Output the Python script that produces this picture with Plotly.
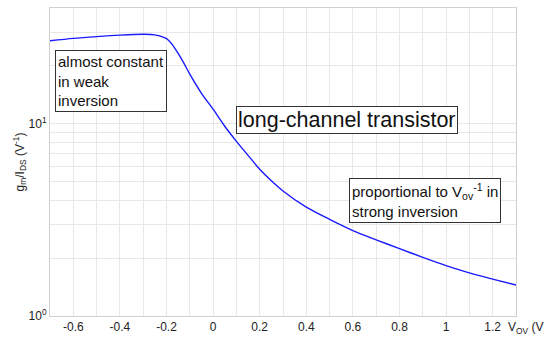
import plotly.graph_objects as go

# Overdrive voltage (V) and transconductance efficiency gm/IDS (1/V)
v_ov = [-0.70, -0.60, -0.50, -0.40, -0.30, -0.25, -0.20, -0.175, -0.15, -0.125,
        -0.10, -0.05, 0.00, 0.05, 0.10, 0.15, 0.20, 0.25, 0.30, 0.40,
        0.50, 0.60, 0.70, 0.80, 0.90, 1.00, 1.10, 1.20, 1.30]
gm_ids = [27.0, 27.8, 28.4, 28.9, 29.2, 29.0, 27.7, 25.8, 23.2, 20.6,
          18.1, 14.4, 11.9, 9.7, 8.1, 6.85, 5.8, 5.05, 4.47, 3.68,
          3.18, 2.78, 2.49, 2.24, 2.02, 1.83, 1.675, 1.555, 1.45]

x_grid = [round(-0.7 + 0.1 * i, 1) for i in range(21)]
x_labels = ["-0.6", "-0.4", "-0.2", "0", "0.2", "0.4", "0.6", "0.8", "1", "1.2"]
y_grid = [1, 2, 3, 4, 5, 6, 7, 8, 9, 10, 20, 30, 40]
y_labels = {1: "10<sup>0</sup>", 10: "10<sup>1</sup>"}

FONT = "Liberation Sans, Arial, sans-serif"

def x_text(v):
    s = f"{v:g}"
    return s if s in x_labels else ""

fig = go.Figure()
fig.add_trace(go.Scatter(
    x=v_ov, y=gm_ids, mode="lines",
    line=dict(color="#1a1aff", width=1.4, shape="spline", smoothing=0.8),
    showlegend=False, hoverinfo="skip",
))

fig.update_layout(
    width=544, height=341,
    margin=dict(l=50, r=28, t=7, b=19),
    paper_bgcolor="white", plot_bgcolor="white",
    font=dict(family=FONT, size=12, color="#222222"),
    xaxis=dict(
        range=[-0.7, 1.3],
        tickmode="array", tickvals=x_grid,
        ticktext=[x_text(v) for v in x_grid],
        showgrid=True, gridcolor="#e8e8e8", gridwidth=1,
        showline=True, linecolor="#d0d0d0", linewidth=1, mirror=True,
        ticks="", zeroline=False, tickfont=dict(size=12),
    ),
    yaxis=dict(
        type="log", range=[0, 1.602],
        tickmode="array", tickvals=y_grid,
        ticktext=[y_labels.get(v, "") for v in y_grid],
        showgrid=True, gridcolor="#e8e8e8", gridwidth=1,
        showline=True, linecolor="#d0d0d0", linewidth=1, mirror=True,
        ticks="", zeroline=False, tickfont=dict(size=12),
        title=dict(text="g<sub>m</sub>/I<sub>DS</sub> (V<sup>-1</sup>)",
                   font=dict(size=12), standoff=1),
    ),
)

box = dict(showarrow=False, bordercolor="#333333", borderwidth=1,
           bgcolor="white", align="left", xanchor="left", yanchor="top",
           xref="paper", yref="paper")

fig.add_annotation(
    text="almost constant<br>in weak<br>inversion",
    x=(55 - 50) / 466, y=1 - (50 - 7) / 315,
    font=dict(size=15, color="#111111"), borderpad=2, **box)
fig.add_annotation(
    text="long-channel transistor",
    x=(236 - 50) / 466, y=1 - (107 - 7) / 315,
    font=dict(size=21.5, color="#111111"), borderpad=1, **box)
fig.add_annotation(
    text="proportional to V<sub>ov</sub><sup>-1</sup> in<br>strong inversion",
    x=(349 - 50) / 466, y=1 - (181 - 7) / 315,
    font=dict(size=15, color="#111111"), borderpad=2, **box)

# Axis unit label placed after the last x tick
fig.add_annotation(
    text="V<sub>OV</sub> (V)", x=1.3, y=0, xref="x", yref="paper",
    xanchor="left", yanchor="top", yshift=-2, xshift=-10, showarrow=False,
    font=dict(size=12, color="#222222"))

fig.write_html("out.html")
